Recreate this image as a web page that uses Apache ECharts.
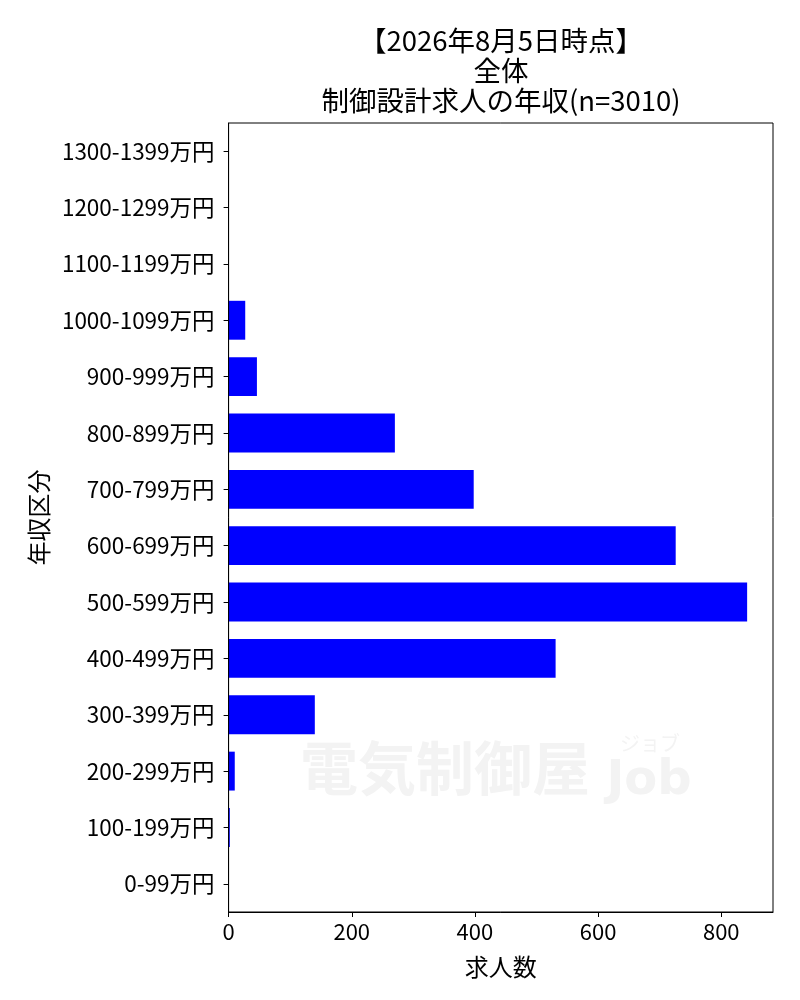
<!DOCTYPE html>
<html>
<head>
<meta charset="utf-8">
<script src="https://cdn.jsdelivr.net/npm/echarts@6/dist/echarts.min.js"></script>
<style>html,body{margin:0;padding:0;background:#fff}#c{width:800px;height:1000px}</style>
</head>
<body>
<div id="c"></div>
<script>
const categories = ['0-99万円','100-199万円','200-299万円','300-399万円','400-499万円','500-599万円','600-699万円','700-799万円','800-899万円','900-999万円','1000-1099万円','1100-1199万円','1200-1299万円','1300-1399万円'];
const counts = [0, 2, 10, 140, 531, 842, 726, 398, 270, 46, 27, 0, 0, 0];
const titleLines = ['【2026年8月5日時点】', '全体', '制御設計求人の年収(n=3010)'];
const xTicks = [0, 200, 400, 600, 800];

const FONT = '"Noto Sans CJK JP", "Noto Sans", sans-serif';
const chart = echarts.init(document.getElementById('c'), null, {renderer: 'canvas'});

const titleGraphics = titleLines.map((t, i) => ({
  type: 'text', x: 501, y: 41 + i * 30, z: 10,
  style: {text: t, fontSize: 27.5, fontFamily: FONT, fill: '#000', textAlign: 'center', textVerticalAlign: 'middle'}
}));

const watermark = [
  {type: 'text', x: 300, y: 768, z: 0, silent: true,
   style: {text: '電気制御屋', fontSize: 58, fontWeight: 'bold', fontFamily: FONT, fill: '#f3f3f3', textAlign: 'left', textVerticalAlign: 'middle'}},
  {type: 'text', x: 650, y: 743, z: 0, silent: true,
   style: {text: 'ジョブ', fontSize: 20, fontFamily: FONT, fill: '#f3f3f3', textAlign: 'center', textVerticalAlign: 'middle'}},
  {type: 'text', x: 649, y: 782, z: 0, silent: true,
   style: {text: 'Job', fontSize: 48, fontWeight: 'bold', fontFamily: '"DejaVu Sans", sans-serif', fill: '#f3f3f3', textAlign: 'center', textVerticalAlign: 'middle'}}
];

chart.setOption({
  animation: false,
  backgroundColor: '#fff',
  textStyle: {fontFamily: FONT},
  graphic: titleGraphics.concat(watermark),
  grid: {left: 228.6, right: 27, top: 123, bottom: 88, show: true, borderColor: '#000', borderWidth: 1, backgroundColor: 'transparent', z: 5},
  xAxis: {
    type: 'value', min: 0, max: 884, interval: 200,
    name: '求人数', nameLocation: 'middle', nameGap: 43,
    nameTextStyle: {fontSize: 24, color: '#000', fontFamily: FONT},
    axisLine: {show: true, lineStyle: {color: '#000', width: 1}},
    axisTick: {show: true, length: 5, lineStyle: {color: '#000'}},
    axisLabel: {fontSize: 22, color: '#000', margin: 9, showMaxLabel: false, fontFamily: FONT,
      formatter: v => xTicks.includes(v) ? String(v) : ''},
    splitLine: {show: false}
  },
  yAxis: {
    type: 'category', data: categories,
    name: '年収区分', nameLocation: 'middle', nameGap: 176, nameRotate: 90,
    nameTextStyle: {fontSize: 24, color: '#000', fontFamily: FONT},
    axisLine: {show: true, lineStyle: {color: '#000', width: 1}},
    axisTick: {show: true, alignWithLabel: true, length: 5, lineStyle: {color: '#000'}},
    axisLabel: {fontSize: 22.5, color: '#000', margin: 14, fontFamily: FONT},
    splitLine: {show: false}
  },
  series: [{
    type: 'bar', data: counts, barWidth: '69%', z: 3,
    itemStyle: {color: '#0000ff'}
  }]
});
</script>
</body>
</html>
